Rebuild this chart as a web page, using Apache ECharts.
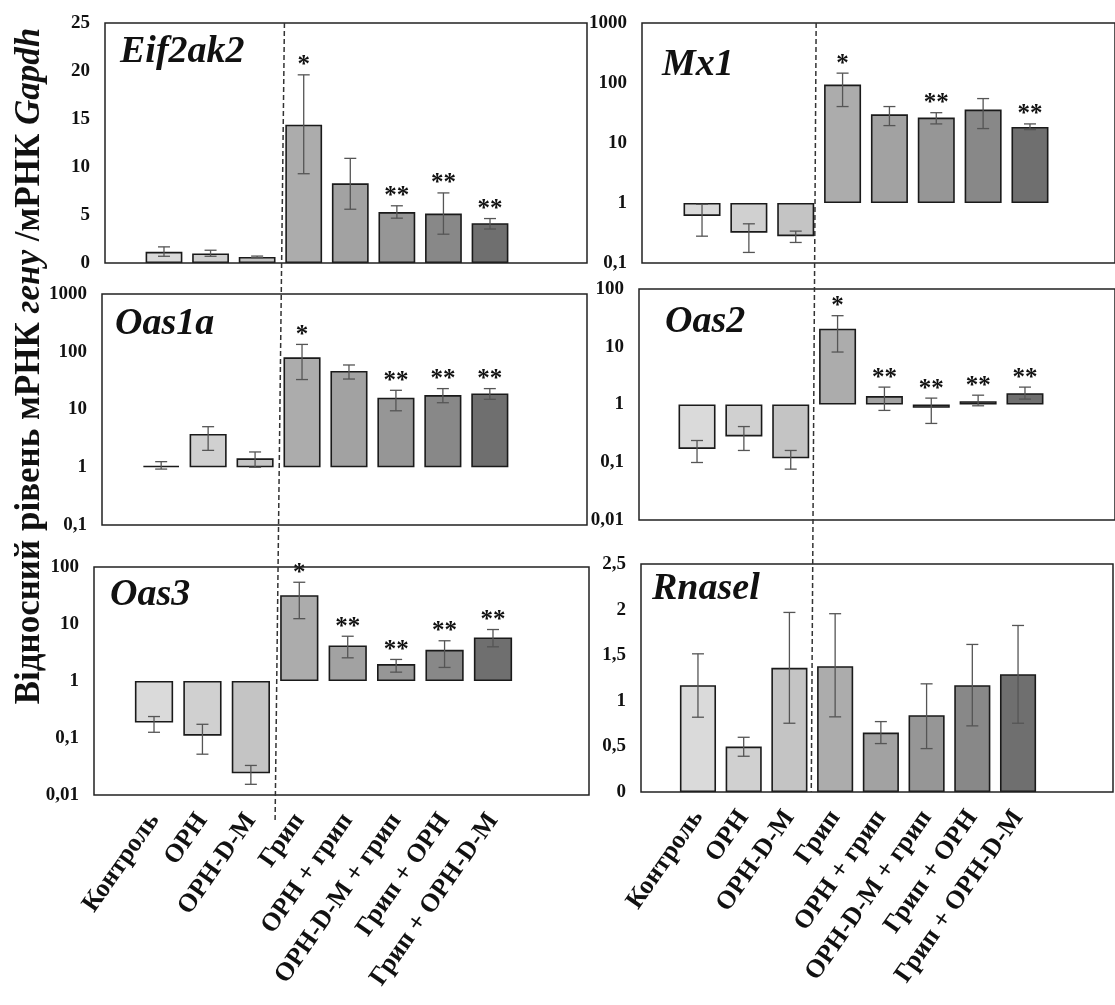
<!DOCTYPE html>
<html><head><meta charset="utf-8">
<script src="https://cdn.jsdelivr.net/npm/echarts@6/dist/echarts.min.js"></script>
<style>html,body{margin:0;background:#fff}#c{width:1115px;height:1005px}</style>
</head><body><div id="c"></div>
<script>
// ---- data ----
const categories = ['Контроль','ОРН','ОРН-D-M','Грип','ОРН + грип','ОРН-D-M + грип','Грип + ОРН','Грип + ОРН-D-M'];
const barColors = ['#dadada','#d0d0d0','#c4c4c4','#acacac','#a2a2a2','#969696','#888888','#6f6f6f'];

const eif2ak2Mean  = [1.16, 0.99, 0.63, 14.4, 8.3, 5.3, 5.15, 4.14];
const eif2ak2Low   = [0.70, 0.70, 0.55, 9.3, 5.6, 4.67, 3.0, 3.54];
const eif2ak2High  = [1.68, 1.33, 0.72, 19.6, 10.9, 5.96, 7.3, 4.63];
const eif2ak2Stars = ['', '', '', '*', '', '**', '**', '**'];
const eif2ak2Ticks = [0, 5, 10, 15, 20, 25];

const mx1Mean  = [0.61, 0.32, 0.28, 94, 30, 26.5, 36, 18.5];
const mx1Low   = [0.28, 0.15, 0.22, 40.5, 19.5, 20.8, 17.4, 16.7];
const mx1High  = [0.95, 0.45, 0.34, 146, 40.5, 32, 55, 20.8];
const mx1Stars = ['', '', '', '*', '', '**', '', '**'];
const mx1Ticks = [0.1, 1, 10, 100, 1000];

const oas1aMean  = [1.06, 3.77, 1.43, 80, 46.4, 16, 17.8, 19];
const oas1aLow   = [0.93, 1.96, 1.0, 33, 33.7, 9.5, 13.1, 15];
const oas1aHigh  = [1.25, 5.04, 1.84, 134, 59, 21.5, 23, 23];
const oas1aStars = ['', '', '', '*', '', '**', '**', '**'];
const oas1aTicks = [0.1, 1, 10, 100, 1000];

const oas2Mean  = [0.17, 0.28, 0.117, 20.5, 1.40, 0.875, 1.14, 1.57];
const oas2Low   = [0.099, 0.16, 0.076, 8.1, 0.79, 0.47, 0.95, 1.24];
const oas2High  = [0.238, 0.415, 0.16, 34.5, 2.0, 1.29, 1.45, 2.0];
const oas2Stars = ['', '', '', '*', '**', '**', '**', '**'];
const oas2Ticks = [0.01, 0.1, 1, 10, 100];

const oas3Mean  = [0.187, 0.11, 0.024, 32, 4.2, 1.98, 3.53, 5.81];
const oas3Low   = [0.126, 0.052, 0.0154, 12.4, 2.55, 1.43, 1.73, 3.98];
const oas3High  = [0.238, 0.174, 0.033, 54, 6.1, 2.39, 5.08, 8.0];
const oas3Stars = ['', '', '', '*', '**', '**', '**', '**'];
const oas3Ticks = [0.01, 0.1, 1, 10, 100];

const rnaselMean  = [1.171, 0.498, 1.362, 1.38, 0.652, 0.842, 1.171, 1.292];
const rnaselLow   = [0.82, 0.392, 0.754, 0.824, 0.531, 0.476, 0.725, 0.754];
const rnaselHigh  = [1.515, 0.60, 1.969, 1.955, 0.772, 1.186, 1.618, 1.826];
const rnaselStars = ['', '', '', '', '', '', '', ''];
const rnaselTicks = [0, 0.5, 1, 1.5, 2, 2.5];

const yTitleParts = ['Відносний рівень мРНК ', 'гену', ' /мРНК ', 'Gapdh'];

// ---- layout ----
const FONT = 'Liberation Serif';
const panels = [
  {gene:'Eif2ak2', mean:eif2ak2Mean, low:eif2ak2Low, high:eif2ak2High, stars:eif2ak2Stars, ticks:eif2ak2Ticks, log:false, interval:5,
   frame:{left:105, top:23, width:482, height:240}, bars:{left:140.7, width:372.6}, labels:false, title:{left:120, top:33}},
  {gene:'Mx1', mean:mx1Mean, low:mx1Low, high:mx1High, stars:mx1Stars, ticks:mx1Ticks, log:true,
   frame:{left:642, top:23, width:490, height:240}, bars:{left:678.6, width:374.8}, labels:false, title:{left:662, top:46}},
  {gene:'Oas1a', mean:oas1aMean, low:oas1aLow, high:oas1aHigh, stars:oas1aStars, ticks:oas1aTicks, log:true,
   frame:{left:102, top:294, width:485, height:231}, bars:{left:137.7, width:375.6}, labels:false, title:{left:115, top:305}},
  {gene:'Oas2', mean:oas2Mean, low:oas2Low, high:oas2High, stars:oas2Stars, ticks:oas2Ticks, log:true,
   frame:{left:639, top:289, width:490, height:231}, bars:{left:673.6, width:374.8}, labels:false, title:{left:665, top:303}},
  {gene:'Oas3', mean:oas3Mean, low:oas3Low, high:oas3High, stars:oas3Stars, ticks:oas3Ticks, log:true,
   frame:{left:94, top:567, width:495, height:228}, bars:{left:129.8, width:387.4}, labels:true, title:{left:110, top:576}},
  {gene:'Rnasel', mean:rnaselMean, low:rnaselLow, high:rnaselHigh, stars:rnaselStars, ticks:rnaselTicks, log:false, interval:0.5,
   frame:{left:641, top:564, width:472, height:228}, bars:{left:675.1, width:365.8}, labels:true, title:{left:652, top:570}}
];

function fmt(v){ return String(+Number(v).toPrecision(6)).replace('.', ','); }

function errRender(stars){
  return function(params, api){
    const x = api.value(0), lo = api.value(1), hi = api.value(2);
    const pLo = api.coord([x, lo]), pHi = api.coord([x, hi]);
    const cap = 6, st = {stroke:'#555', lineWidth:1.3};
    const ch = [
      {type:'line', shape:{x1:pLo[0], y1:pLo[1], x2:pHi[0], y2:pHi[1]}, style:st},
      {type:'line', shape:{x1:pLo[0]-cap, y1:pLo[1], x2:pLo[0]+cap, y2:pLo[1]}, style:st},
      {type:'line', shape:{x1:pHi[0]-cap, y1:pHi[1], x2:pHi[0]+cap, y2:pHi[1]}, style:st}
    ];
    const s = stars[params.dataIndex];
    if (s) ch.push({type:'text', x:pHi[0], y:pHi[1]-9,
      style:{text:s, fontSize:25, fontWeight:'bold', fontFamily:FONT, fill:'#111', align:'center', verticalAlign:'middle'}});
    return {type:'group', children:ch};
  };
}

const grid = [], xAxis = [], yAxis = [], series = [], title = [];
panels.forEach((p) => {
  grid.push({left:p.bars.left, width:p.bars.width, top:p.frame.top, height:p.frame.height, show:false});
});
panels.forEach((p) => {
  grid.push({left:p.frame.left, width:p.frame.width, top:p.frame.top, height:p.frame.height, show:true,
    borderColor:'#222', borderWidth:1.5, backgroundColor:'rgba(0,0,0,0)', z:5});
});
panels.forEach((p, i) => {
  xAxis.push({type:'category', gridIndex:i, data:categories,
    axisLine:{show:false}, axisTick:{show:false}, splitLine:{show:false},
    axisLabel:{show:p.labels, interval:0, rotate:55, margin:21, fontSize:26, fontWeight:'bold', fontFamily:FONT, color:'#111'}});
  const y = {gridIndex:i, min:p.ticks[0], max:p.ticks[p.ticks.length-1],
    offset:p.bars.left - p.frame.left,
    axisLine:{show:false}, axisTick:{show:false}, splitLine:{show:false},
    axisLabel:{margin:15, fontSize:19, fontWeight:'bold', fontFamily:FONT, color:'#111', formatter:fmt}};
  if (p.log) { y.type = 'log'; y.logBase = 10; } else { y.type = 'value'; y.interval = p.interval; }
  yAxis.push(y);
  series.push({type:'bar', xAxisIndex:i, yAxisIndex:i, data:p.mean, barWidth:'79%',
    itemStyle:{color:(q)=>barColors[q.dataIndex], borderColor:'#1a1a1a', borderWidth:1.6}, z:2});
  series.push({type:'custom', xAxisIndex:i, yAxisIndex:i, clip:false, z:4,
    data:p.mean.map((m, k) => [k, p.low[k], p.high[k]]),
    encode:{x:0, y:[1,2]}, renderItem:errRender(p.stars)});
  title.push({text:p.gene, left:p.title.left, top:p.title.top, padding:0,
    textStyle:{fontFamily:FONT, fontStyle:'italic', fontWeight:'bold', fontSize:38, color:'#111'}});
});

const chart = echarts.init(document.getElementById('c'), null, {renderer:'canvas'});
chart.setOption({backgroundColor:'#fff', animation:false, title, grid, xAxis, yAxis, series});

function midX(ax){
  const a = chart.convertToPixel({xAxisIndex:ax}, categories[2]);
  const b = chart.convertToPixel({xAxisIndex:ax}, categories[3]);
  return (a + b) / 2;
}
const dash = {stroke:'#333', lineWidth:1.5, lineDash:[5,3]};
const yt = yTitleParts;
chart.setOption({graphic:[
  {type:'line', z:10, shape:{x1:midX(0)+4, y1:panels[0].frame.top, x2:midX(4), y2:panels[4].frame.top+panels[4].frame.height+27}, style:dash},
  {type:'line', z:10, shape:{x1:midX(1)-3, y1:panels[1].frame.top, x2:midX(5)-1, y2:panels[5].frame.top+panels[5].frame.height}, style:dash},
  {type:'text', x:30, y:366, rotation:Math.PI/2, z:10,
   style:{text:'{b|'+yt[0]+'}{i|'+yt[1]+'}{b|'+yt[2]+'}{i|'+yt[3]+'}', align:'center', verticalAlign:'middle',
     rich:{b:{fontFamily:FONT, fontWeight:'bold', fontSize:35, fill:'#111', color:'#111'},
           i:{fontFamily:FONT, fontWeight:'bold', fontStyle:'italic', fontSize:35, fill:'#111', color:'#111'}}}}
]});
</script></body></html>
